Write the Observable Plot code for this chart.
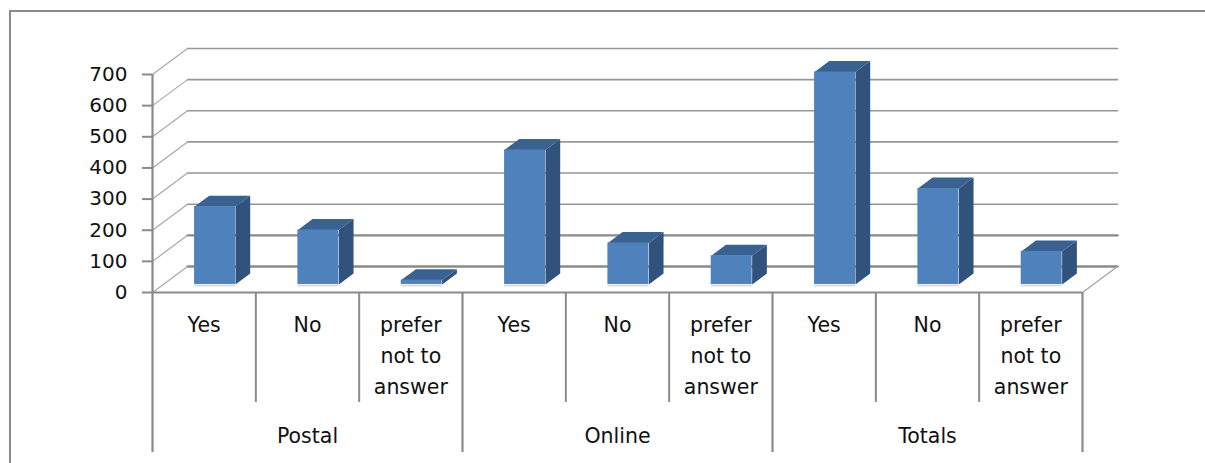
<!DOCTYPE html>
<html>
<head>
<meta charset="utf-8">
<script src="https://cdn.jsdelivr.net/npm/d3@7"></script>
<script src="https://cdn.jsdelivr.net/npm/@observablehq/plot@0.6"></script>
<style>
html,body{margin:0;padding:0;background:#fff;overflow:hidden}
#wrap{position:relative;width:1205px;height:463px;overflow:hidden}
#frame{position:absolute;left:9px;top:10px;right:-5px;bottom:-5px;border-top:2.5px solid #8a8a8a;border-left:2.5px solid #8a8a8a}
#wrap svg{position:absolute;left:0;top:0;background:transparent}
</style>
</head>
<body>
<div id="wrap"><div id="frame"></div></div>
<script>
const groups = ["Postal", "Online", "Totals"];
const answers = ["Yes", "No", "prefer\nnot to\nanswer"];
const postal = [250, 175, 14];
const online = [432, 133, 92];
const totals = [682, 308, 106];
const yTicks = [0, 100, 200, 300, 400, 500, 600, 700];

// Oblique depth: one unit of depth moves a point this far in data units.
const depthX = 0.339, depthY = 83.5;
const halfBar = 0.198, depthFront = 0.31, depthBack = 0.73;
const pt = (c, v, d) => ({c: c + d * depthX, v: v + d * depthY});

const bars = [postal, online, totals].flatMap((vals, g) =>
  vals.map((value, a) => ({
    id: g * 3 + a, center: g * 3 + a + 0.5, value, answer: answers[a]
  })));

const face = (fn) => bars.flatMap(b => fn(b).map(p => ({...p, id: b.id})));
const L = b => b.center - halfBar, R = b => b.center + halfBar;
const frontL = b => pt(L(b), 0, depthFront).c, frontR = b => pt(R(b), 0, depthFront).c;
const sideFaces = face(b => [pt(R(b), 0, depthFront), pt(R(b), 0, depthBack), pt(R(b), b.value, depthBack), pt(R(b), b.value, depthFront)]);
const topFaces = face(b => [pt(L(b), b.value, depthFront), pt(R(b), b.value, depthFront), pt(R(b), b.value, depthBack), pt(L(b), b.value, depthBack)]);

const backGrid = yTicks.flatMap(v => [pt(0, v, 1), pt(9, v, 1)].map(p => ({...p, id: v})));
const sideGrid = yTicks.flatMap(v => [pt(0, v, 0), pt(0, v, 1)].map(p => ({...p, id: v})));
const floorRight = [pt(9, 0, 0), pt(9, 0, 1)];

const gray = "#8a8a8a", ink = "#111", font = 20;
const innerBottom = -353, outerBottom = -514;
const heavy = new Set([0, 100]);

const chart = Plot.plot({
  width: 1205, height: 463,
  marginLeft: 152, marginRight: 123, marginTop: 74, marginBottom: 171,
  style: {fontFamily: "'DejaVu Sans'", fontSize: font + "px", background: "transparent", overflow: "visible"},
  x: {domain: [0, 9], axis: null},
  y: {domain: [0, 700], axis: null},
  marks: [
    Plot.line(backGrid.filter(d => !heavy.has(d.id)), {x: "c", y: "v", z: "id", stroke: "#969696", strokeWidth: 1.6}),
    Plot.line(backGrid.filter(d => heavy.has(d.id)), {x: "c", y: "v", z: "id", stroke: "#8a8a8a", strokeWidth: 2.4}),
    Plot.line(sideGrid, {x: "c", y: "v", z: "id", stroke: "#a8a8a8", strokeWidth: 1.2}),
    Plot.line(floorRight, {x: "c", y: "v", stroke: "#a0a0a0", strokeWidth: 1.2}),
    Plot.line(sideFaces, {x: "c", y: "v", z: "id", fill: "#31527c", stroke: "none"}),
    Plot.line(topFaces, {x: "c", y: "v", z: "id", fill: "#3a6290", stroke: "none"}),
    Plot.rect(bars, {
      x1: frontL, x2: frontR,
      y1: () => depthFront * depthY,
      y2: b => b.value + depthFront * depthY,
      fill: "#4f81bd"
    }),
    Plot.ruleY(bars, {
      x1: frontL, x2: frontR,
      y: () => depthFront * depthY, dy: 1, stroke: "#d3deed", strokeWidth: 2
    }),
    Plot.ruleX(bars.filter(b => b.id % 3 !== 0), {x: b => b.center - 0.5, y1: 0, y2: innerBottom, stroke: gray, strokeWidth: 2}),
    Plot.ruleX([0, 3, 6, 9], {y1: 0, y2: outerBottom, stroke: gray, strokeWidth: 2.2}),
    Plot.ruleX([0], {y1: 0, y2: 700, stroke: gray, strokeWidth: 2.2}),
    Plot.ruleY([0], {x1: 0, x2: 9, stroke: gray, strokeWidth: 2.2}),
    Plot.axisY({ticks: yTicks, tickSize: 10, tickPadding: 15, label: null, stroke: gray, strokeWidth: 2, fill: ink, fontSize: font}),
    Plot.text(bars, {
      x: "center", y: () => 0, text: "answer", dy: 17,
      lineAnchor: "top", lineHeight: 1.53, fill: ink, fontSize: 20.5
    }),
    Plot.text(groups, {
      x: (d, i) => i * 3 + 1.5, y: () => 0, text: d => d, dy: 150,
      lineAnchor: "bottom", fill: ink, fontSize: 20.5
    })
  ]
});
document.getElementById("wrap").appendChild(chart);
</script>
</body>
</html>
